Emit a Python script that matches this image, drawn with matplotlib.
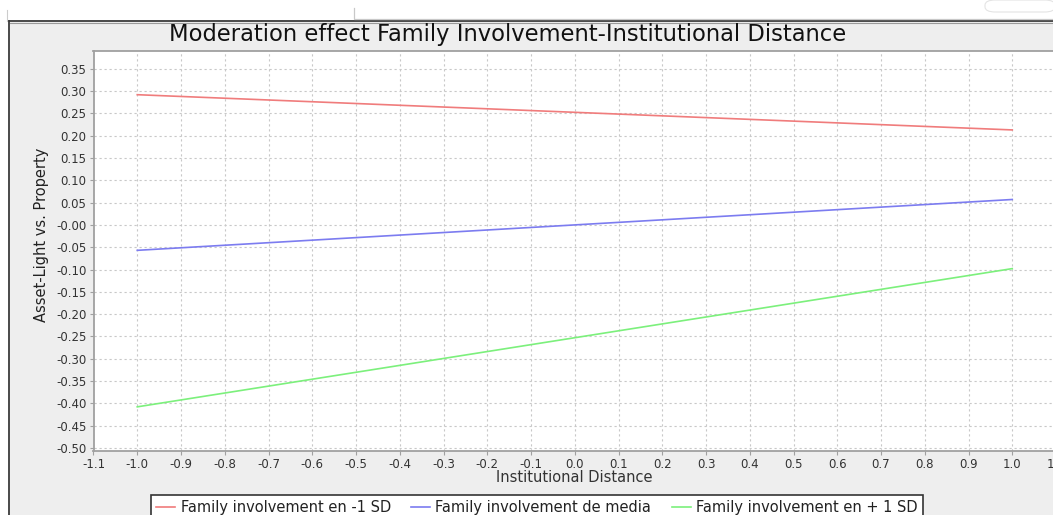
import matplotlib
matplotlib.use("Agg")
import matplotlib.pyplot as plt
from matplotlib.lines import Line2D
from matplotlib.patches import Rectangle, FancyBboxPatch
import numpy as np

plt.rcParams['axes.unicode_minus'] = False
plt.rcParams['font.family'] = ['DejaVu Sans']

# ---- data ----
title = "Moderation effect Family Involvement-Institutional Distance"
x_label = "Institutional Distance"
y_label = "Asset-Light vs. Property"
series_names = ["Family involvement en -1 SD",
                "Family involvement de media",
                "Family involvement en + 1 SD"]
x_values = [-1.0, 1.0]
low_sd = [0.292, 0.213]
mean_sd = [-0.057, 0.057]
high_sd = [-0.408, -0.098]
x_ticks = [round(v, 1) for v in np.arange(-1.1, 1.101, 0.1)]
y_ticks = [round(v, 2) for v in np.arange(-0.50, 0.351, 0.05)]
colors = ['#f07c7c', '#7c7cf0', '#7cf07c']

W, H = 1053, 515
fig = plt.figure(figsize=(W / 100, H / 100), dpi=100)
fig.patch.set_facecolor('white')

def fx(x):
    return x / W

def fy(y):
    return 1 - y / H

# window panel background
fig.add_artist(Rectangle((fx(10), 0), 1, fy(22), transform=fig.transFigure,
                         facecolor='#eeeeee', edgecolor='none', zorder=0))
# window frame lines
fig.add_artist(Line2D([fx(9), 1], [fy(21), fy(21)], transform=fig.transFigure,
                      color='#3a3a3a', lw=1.3))
fig.add_artist(Line2D([fx(10), 1], [fy(23), fy(23)], transform=fig.transFigure,
                      color='#9a9a9a', lw=0.8))
fig.add_artist(Line2D([fx(9), fx(9)], [fy(21), 0], transform=fig.transFigure,
                      color='#3a3a3a', lw=1.3))
fig.add_artist(Line2D([fx(7), fx(7)], [fy(10), fy(21)], transform=fig.transFigure,
                      color='#cccccc', lw=0.8))
# top tab-like box lines
fig.add_artist(Line2D([fx(354), fx(354), 1], [fy(8), fy(19), fy(19)],
                      transform=fig.transFigure, color='#c8c8c8', lw=0.9))
fig.add_artist(FancyBboxPatch((fx(985), fy(12)), fx(70), fy(0) - fy(12),
                              boxstyle="round,pad=0,rounding_size=0.01",
                              transform=fig.transFigure, facecolor='white',
                              edgecolor='#e4e4e4', lw=0.8))

# ---- axes ----
ax = fig.add_axes([fx(93.5), fy(451), fx(1056) - fx(93.5), fy(51) - fy(451)])
ax.set_facecolor('white')
ax.set_xlim(-1.1, 1.1)
ax.set_ylim(-0.507, 0.39)

for sp in ax.spines.values():
    sp.set_color('#a0a0a0')
    sp.set_linewidth(1.3)

ax.set_xticks(x_ticks)
ax.set_xticklabels([f"{v:.1f}" for v in x_ticks])
ax.set_yticks(y_ticks)
ax.set_yticklabels([f"{v:.2f}" for v in y_ticks])
ax.tick_params(axis='both', colors='#a0a0a0', labelcolor='#333333',
               labelsize=8.5, length=3, width=0.8, pad=2)

ax.grid(True, color='#c8c8c8', linestyle=(0, (2, 2.5)), linewidth=0.8)
ax.set_axisbelow(True)

handles = []
for vals, name, c in zip([low_sd, mean_sd, high_sd], series_names, colors):
    h, = ax.plot(x_values, vals, color=c, lw=1.2, label=name, zorder=3)
    handles.append(h)

# title and labels
fig.text(fx(508), fy(35), title, ha='center', va='center',
         fontsize=16.3, color='#111111')
fig.text(fx(42), fy(235), y_label, rotation=90, ha='center', va='center',
         fontsize=10.5, color='#222222')
fig.text(fx(574), fy(478), x_label, ha='center', va='center',
         fontsize=10.5, color='#333333')

leg = fig.legend(handles=handles, loc='upper center',
                 bbox_to_anchor=(fx(537), fy(495)), ncol=3, fontsize=10.5,
                 frameon=True, fancybox=False, edgecolor='#333333',
                 facecolor='white', framealpha=1, handlelength=1.3,
                 handletextpad=0.36, columnspacing=1.4, borderpad=0.35,
                 borderaxespad=0)
leg.get_frame().set_linewidth(1.2)
for t in leg.get_texts():
    t.set_color('#222222')

fig.savefig('out.png', dpi=100)
